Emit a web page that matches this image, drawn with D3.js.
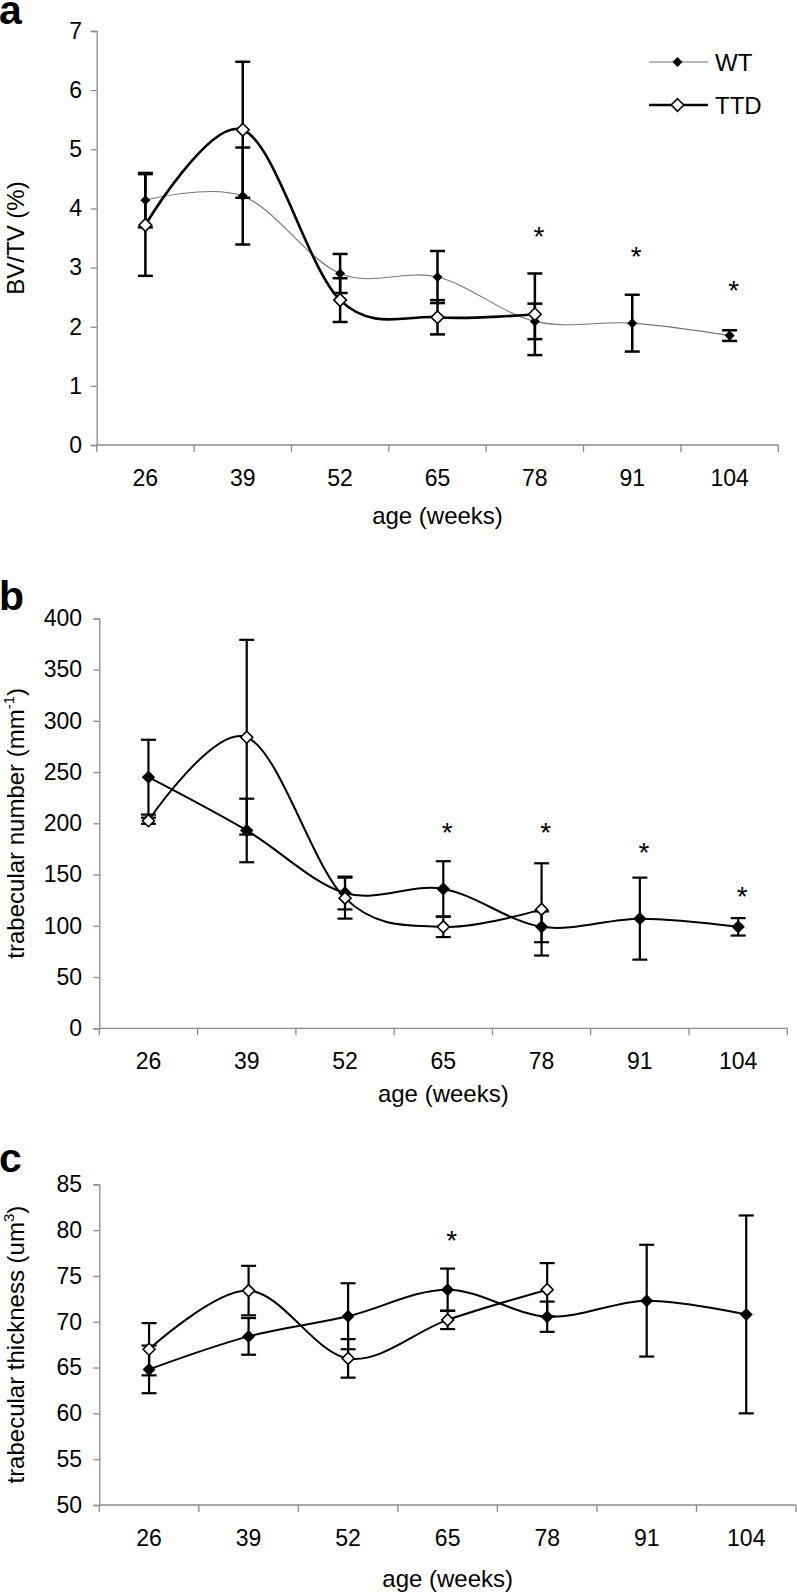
<!DOCTYPE html>
<html>
<head>
<meta charset="utf-8">
<script src="https://cdn.jsdelivr.net/npm/d3@7"></script>
<style>
  html, body { margin: 0; padding: 0; background: #fff; }
  svg { display: block; }
  text { font-family: "Liberation Sans", Arial, Helvetica, sans-serif; fill: #000; }
</style>
</head>
<body>
<svg id="chart" width="797" height="1595"></svg>
<script>
// ---------- DATA ----------
const ages = ["26", "39", "52", "65", "78", "91", "104"];
const ttdAges = ["26", "39", "52", "65", "78"];

// Panel a: BV/TV (%)
const bvtvWT      = [4.14, 4.21, 2.90, 2.84, 2.09, 2.06, 1.85];
const bvtvWTErr   = [0.46, 0.82, 0.33, 0.44, 0.30, 0.48, 0.09];
const bvtvTTD     = [3.72, 5.33, 2.45, 2.16, 2.21];
const bvtvTTDErr  = [0.86, 1.15, 0.37, 0.29, 0.69];
const bvtvTicks   = [0, 1, 2, 3, 4, 5, 6, 7];
const bvtvStarAges = ["78", "91", "104"];
const bvtvStarVals = [3.64, 3.30, 2.73];

// Panel b: trabecular number (mm-1)
const tbnWT       = [245, 193, 132, 136, 99, 107, 99];
const tbnWTErr    = [36.5, 31, 16, 27, 15, 40, 8.5];
const tbnTTD      = [202.5, 284, 127, 99, 116];
const tbnTTDErr   = [3, 95, 20, 10, 45];
const tbnTicks    = [0, 50, 100, 150, 200, 250, 300, 350, 400];
const tbnStarAges = ["65", "78", "91", "104"];
const tbnStarVals = [197, 197, 178, 135];

// Panel c: trabecular thickness (um3)
const tbthWT      = [64.8, 68.4, 70.6, 73.5, 70.55, 72.3, 70.8];
const tbthWTErr   = [2.6, 2.0, 3.6, 2.3, 1.65, 6.1, 10.8];
const tbthTTD     = [67.0, 73.4, 66.0, 70.2, 73.5];
const tbthTTDErr  = [2.85, 2.7, 2.1, 1.0, 2.9];
const tbthTicks   = [50, 55, 60, 65, 70, 75, 80, 85];
const tbthStarAges = ["65"];
const tbthStarVals = [79.6];

const seriesNames = ["WT", "TTD"];
const xTitle = "age (weeks)";

// ---------- LAYOUT ----------
const panels = [
  { letter: "a", letterY: 24, left: 96.7, right: 778.3, top: 31, bottom: 445,
    domain: [0, 7], ticks: bvtvTicks, wt: bvtvWT, wtErr: bvtvWTErr, ttd: bvtvTTD, ttdErr: bvtvTTDErr,
    starAges: bvtvStarAges, starVals: bvtvStarVals,
    ylabel: ["BV/TV (%)"], titleY: 524,
    wtLine: { stroke: "#777", width: 1.1 }, ttdLine: { stroke: "#000", width: 2.6 },
    wtR: 5, ttdR: 6.3, errW: 2.5, legend: true },
  { letter: "b", letterY: 610, left: 99.3, right: 787.3, top: 618.3, bottom: 1028.3,
    domain: [0, 400], ticks: tbnTicks, wt: tbnWT, wtErr: tbnWTErr, ttd: tbnTTD, ttdErr: tbnTTDErr,
    starAges: tbnStarAges, starVals: tbnStarVals,
    ylabel: ["trabecular number (mm", "-1", ")"], titleY: 1102,
    wtLine: { stroke: "#000", width: 2 }, ttdLine: { stroke: "#000", width: 2 },
    wtR: 6.7, ttdR: 6, errW: 2.2, legend: false },
  { letter: "c", letterY: 1171.5, left: 99.3, right: 796, top: 1184.3, bottom: 1505,
    domain: [50, 85], ticks: tbthTicks, wt: tbthWT, wtErr: tbthWTErr, ttd: tbthTTD, ttdErr: tbthTTDErr,
    starAges: tbthStarAges, starVals: tbthStarVals,
    ylabel: ["trabecular thickness (um", "3", ")"], titleY: 1587,
    wtLine: { stroke: "#000", width: 2 }, ttdLine: { stroke: "#000", width: 2 },
    wtR: 6.5, ttdR: 6, errW: 2.2, legend: false }
];

const svg = d3.select("#chart");
const axisColor = "#8a8a8a";
const diamond = r => `M0,${-r}L${r},0L0,${r}L${-r},0Z`;

panels.forEach(p => {
  const g = svg.append("g");
  const x = d3.scaleBand().domain(ages).range([p.left, p.right]).paddingInner(0).paddingOuter(0);
  const y = d3.scaleLinear().domain(p.domain).range([p.bottom, p.top]);
  const cx = c => x(c) + x.bandwidth() / 2;

  // panel letter
  g.append("text").attr("x", -1).attr("y", p.letterY)
    .attr("font-size", 41).attr("font-weight", "bold").text(p.letter);

  // y axis
  const yAxis = d3.axisLeft(y).tickValues(p.ticks).tickSize(6).tickPadding(p.left - 6 - 82)
    .tickFormat(d3.format("d"));
  const ya = g.append("g").attr("transform", `translate(${p.left},0)`).call(yAxis);
  ya.select(".domain").attr("stroke", axisColor).attr("stroke-width", 1.3);
  ya.selectAll(".tick line").attr("stroke", axisColor).attr("stroke-width", 1.3);
  ya.selectAll(".tick text").attr("font-size", 23).attr("font-family", "Liberation Sans, Arial, sans-serif").attr("fill", "#000");

  // x axis line and boundary ticks
  g.append("line").attr("x1", p.left).attr("x2", p.right).attr("y1", p.bottom).attr("y2", p.bottom)
    .attr("stroke", axisColor).attr("stroke-width", 1.3);
  const bounds = ages.map(a => x(a)).concat([x(ages[ages.length - 1]) + x.bandwidth()]);
  g.selectAll(".xtick").data(bounds).enter().append("line")
    .attr("x1", d => d).attr("x2", d => d).attr("y1", p.bottom).attr("y2", p.bottom + 7)
    .attr("stroke", axisColor).attr("stroke-width", 1.3);
  g.selectAll(".xlab").data(ages).enter().append("text")
    .attr("x", d => cx(d)).attr("y", p.bottom + 41).attr("text-anchor", "middle")
    .attr("font-size", 23).text(d => d);

  // x title
  g.append("text").attr("x", (p.left + p.right) / 2).attr("y", p.titleY)
    .attr("text-anchor", "middle").attr("font-size", 24).text(xTitle);

  // y title
  const yt = g.append("text")
    .attr("transform", `translate(24,${(p.top + p.bottom) / 2}) rotate(-90)`)
    .attr("text-anchor", "middle").attr("font-size", 24);
  yt.append("tspan").text(p.ylabel[0]);
  if (p.ylabel.length > 1) {
    yt.append("tspan").attr("font-size", 15).attr("dy", -10).text(p.ylabel[1]);
    yt.append("tspan").attr("dy", 10).text(p.ylabel[2]);
  }

  const wtData = ages.map((a, i) => ({ a, v: p.wt[i], e: p.wtErr[i] }));
  const ttdData = ttdAges.map((a, i) => ({ a, v: p.ttd[i], e: p.ttdErr[i] }));

  const line = d3.line().x(d => cx(d.a)).y(d => y(d.v)).curve(d3.curveCardinal.tension(0));

  g.append("path").datum(wtData).attr("d", line).attr("fill", "none")
    .attr("stroke", p.wtLine.stroke).attr("stroke-width", p.wtLine.width);
  g.append("path").datum(ttdData).attr("d", line).attr("fill", "none")
    .attr("stroke", p.ttdLine.stroke).attr("stroke-width", p.ttdLine.width);

  // error bars
  const capHalf = 7.5;
  const drawErr = data => {
    const eg = g.append("g").attr("stroke", "#000").attr("stroke-width", p.errW).attr("fill", "none");
    data.forEach(d => {
      const xx = cx(d.a), y1 = y(d.v + d.e), y2 = y(d.v - d.e);
      eg.append("line").attr("x1", xx).attr("x2", xx).attr("y1", y1).attr("y2", y2);
      eg.append("line").attr("x1", xx - capHalf).attr("x2", xx + capHalf).attr("y1", y1).attr("y2", y1);
      eg.append("line").attr("x1", xx - capHalf).attr("x2", xx + capHalf).attr("y1", y2).attr("y2", y2);
    });
  };
  drawErr(wtData);
  drawErr(ttdData);

  // markers
  g.selectAll(".wtm").data(wtData).enter().append("path")
    .attr("d", diamond(p.wtR)).attr("transform", d => `translate(${cx(d.a)},${y(d.v)})`)
    .attr("fill", "#000");
  g.selectAll(".ttdm").data(ttdData).enter().append("path")
    .attr("d", diamond(p.ttdR)).attr("transform", d => `translate(${cx(d.a)},${y(d.v)})`)
    .attr("fill", "#fff").attr("stroke", "#000").attr("stroke-width", 1.6);

  // significance stars
  g.selectAll(".star").data(p.starAges.map((a, i) => ({ a, v: p.starVals[i] }))).enter().append("text")
    .attr("x", d => cx(d.a) + 4).attr("y", d => y(d.v)).attr("dy", "0.57em")
    .attr("text-anchor", "middle").attr("font-size", 28).text("*");

  // legend
  if (p.legend) {
    const lg = g.append("g");
    const items = [
      { name: seriesNames[0], y: 62, stroke: p.wtLine.stroke, w: p.wtLine.width, fill: "#000", r: p.wtR, sw: 0 },
      { name: seriesNames[1], y: 105, stroke: p.ttdLine.stroke, w: p.ttdLine.width, fill: "#fff", r: p.ttdR, sw: 1.6 }
    ];
    items.forEach(it => {
      lg.append("line").attr("x1", 649).attr("x2", 708).attr("y1", it.y).attr("y2", it.y)
        .attr("stroke", it.stroke).attr("stroke-width", it.w);
      lg.append("path").attr("d", diamond(it.r)).attr("transform", `translate(677.5,${it.y})`)
        .attr("fill", it.fill).attr("stroke", it.sw ? "#000" : "none").attr("stroke-width", it.sw);
      lg.append("text").attr("x", 715).attr("y", it.y).attr("dy", "0.36em")
        .attr("font-size", 24).text(it.name);
    });
  }
});
</script>
</body>
</html>
